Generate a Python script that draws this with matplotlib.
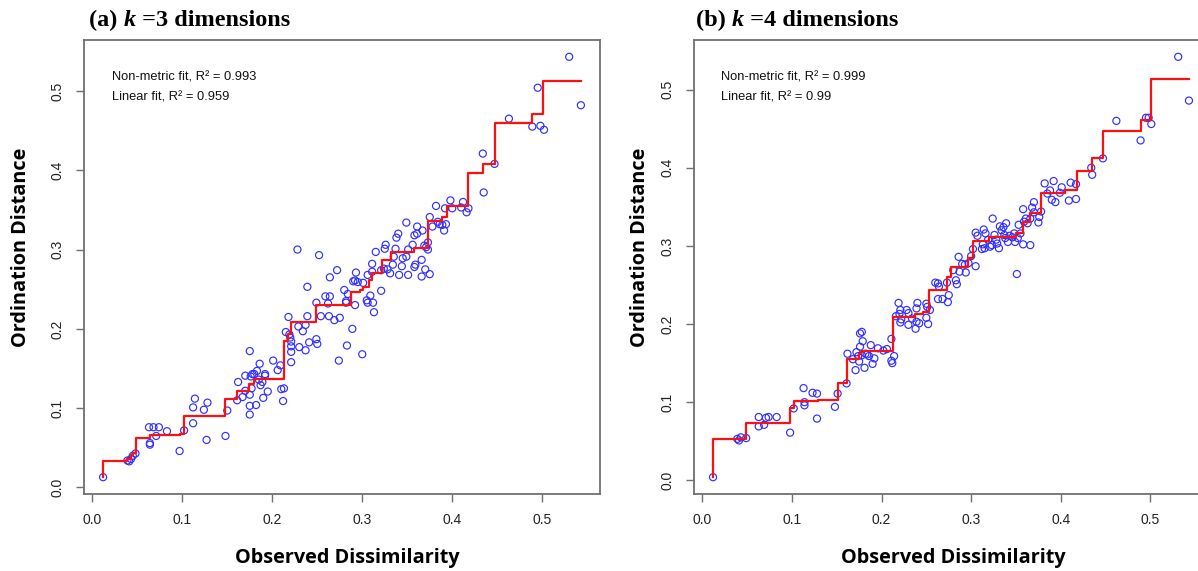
import matplotlib
matplotlib.use("Agg")
import matplotlib.pyplot as plt

# Shepard diagrams of an NMDS run, k=3 and k=4

# (a) k = 3
a_obs = [0.012, 0.039, 0.041, 0.043, 0.045, 0.048, 0.063, 0.068, 0.074, 0.064,
         0.064, 0.071, 0.083, 0.097, 0.102, 0.112, 0.112, 0.114, 0.124, 0.128,
         0.127, 0.148, 0.150, 0.161, 0.162, 0.167, 0.170, 0.170, 0.175, 0.175,
         0.175, 0.175, 0.176, 0.178, 0.180, 0.177, 0.182, 0.183, 0.185, 0.186,
         0.187, 0.189, 0.190, 0.192, 0.192, 0.195, 0.201, 0.206, 0.209, 0.210,
         0.213, 0.212, 0.215, 0.218, 0.219, 0.220, 0.221, 0.221, 0.221, 0.221,
         0.229, 0.230, 0.234, 0.237, 0.237, 0.239, 0.239, 0.241, 0.249, 0.249,
         0.250, 0.254, 0.259, 0.264, 0.262, 0.263, 0.269, 0.274, 0.275, 0.280,
         0.282, 0.282, 0.284, 0.283, 0.289, 0.292, 0.300, 0.305, 0.306, 0.309,
         0.312, 0.313, 0.321,
         0.228, 0.252, 0.264, 0.272, 0.293, 0.290, 0.292, 0.295, 0.301, 0.306,
         0.311, 0.315, 0.311, 0.321, 0.324, 0.325, 0.326, 0.328, 0.331, 0.334,
         0.335, 0.337, 0.338, 0.340, 0.341, 0.344, 0.345, 0.349, 0.349, 0.351,
         0.351, 0.356, 0.358, 0.359, 0.358, 0.361, 0.361, 0.366, 0.366, 0.367,
         0.369, 0.371, 0.373, 0.373, 0.370, 0.375, 0.375, 0.378, 0.382, 0.384,
         0.386, 0.389, 0.391, 0.393, 0.392, 0.398, 0.400, 0.410, 0.412, 0.416,
         0.418, 0.434, 0.435, 0.447, 0.463, 0.489, 0.495, 0.498, 0.502, 0.530,
         0.543]
a_ord = [0.013, 0.034, 0.033, 0.036, 0.040, 0.043, 0.076, 0.076, 0.076, 0.054,
         0.056, 0.065, 0.071, 0.046, 0.072, 0.081, 0.101, 0.112, 0.098, 0.107,
         0.060, 0.065, 0.097, 0.110, 0.133, 0.114, 0.122, 0.141, 0.117, 0.103,
         0.092, 0.172, 0.140, 0.143, 0.143, 0.125, 0.104, 0.147, 0.136, 0.156,
         0.129, 0.133, 0.113, 0.143, 0.141, 0.121, 0.160, 0.148, 0.154, 0.124,
         0.125, 0.109, 0.196, 0.215, 0.193, 0.189, 0.184, 0.158, 0.178, 0.171,
         0.203, 0.177, 0.197, 0.205, 0.173, 0.253, 0.216, 0.183, 0.233, 0.187,
         0.181, 0.216, 0.241, 0.241, 0.232, 0.216, 0.211, 0.160, 0.214, 0.249,
         0.235, 0.233, 0.244, 0.179, 0.200, 0.230, 0.168, 0.236, 0.233, 0.242,
         0.233, 0.221, 0.248,
         0.300, 0.293, 0.265, 0.274, 0.271, 0.260, 0.261, 0.259, 0.258, 0.268,
         0.272, 0.297, 0.282, 0.274, 0.276, 0.301, 0.306, 0.275, 0.270, 0.281,
         0.291, 0.301, 0.315, 0.320, 0.268, 0.279, 0.289, 0.291, 0.334, 0.268,
         0.300, 0.306, 0.278, 0.281, 0.318, 0.320, 0.329, 0.287, 0.266, 0.324,
         0.305, 0.303, 0.309, 0.300, 0.275, 0.269, 0.341, 0.329, 0.355, 0.335,
         0.332, 0.331, 0.324, 0.332, 0.352, 0.362, 0.352, 0.353, 0.360, 0.347,
         0.352, 0.421, 0.372, 0.408, 0.465, 0.455, 0.504, 0.456, 0.451, 0.543,
         0.482]
a_step_x = [0.012, 0.012, 0.039, 0.043, 0.045, 0.048, 0.064, 0.097, 0.102, 0.148,
            0.161, 0.174, 0.180, 0.213, 0.217, 0.221, 0.249, 0.288, 0.298, 0.301,
            0.308, 0.311, 0.322, 0.332, 0.357, 0.373, 0.389, 0.394, 0.418, 0.434,
            0.447, 0.489, 0.501, 0.543]
a_step_y = [0.013, 0.034, 0.036, 0.041, 0.044, 0.062, 0.066, 0.068, 0.090, 0.111,
            0.122, 0.130, 0.137, 0.185, 0.193, 0.209, 0.230, 0.247, 0.249, 0.253,
            0.262, 0.271, 0.287, 0.297, 0.302, 0.336, 0.341, 0.355, 0.396, 0.408,
            0.460, 0.4705, 0.513, 0.513]
a_fit = ["Non-metric fit, R² = 0.993", "Linear fit, R² = 0.959"]

# (b) k = 4
b_obs = [0.012, 0.039, 0.041, 0.043, 0.049, 0.063, 0.074, 0.083, 0.071, 0.063,
         0.069, 0.098, 0.102, 0.113, 0.114, 0.114, 0.123, 0.128, 0.128, 0.148,
         0.151, 0.161, 0.162, 0.168, 0.171, 0.172, 0.175, 0.174, 0.176, 0.178,
         0.176, 0.179, 0.178, 0.182, 0.184, 0.186, 0.181, 0.188, 0.190, 0.192,
         0.196, 0.202, 0.206, 0.211, 0.211, 0.212, 0.214, 0.216, 0.219, 0.220,
         0.221, 0.222, 0.221, 0.228, 0.230, 0.230, 0.234, 0.238, 0.239, 0.240,
         0.239, 0.242, 0.250, 0.251, 0.250, 0.252, 0.254, 0.260, 0.263, 0.264,
         0.263, 0.268, 0.273, 0.274, 0.275, 0.283, 0.284,
         0.280, 0.286, 0.287, 0.290, 0.294, 0.293, 0.297, 0.300, 0.305, 0.302,
         0.305, 0.307, 0.312, 0.315, 0.313, 0.314, 0.316, 0.319, 0.321, 0.323,
         0.324, 0.326, 0.328, 0.331, 0.329, 0.332, 0.334, 0.336, 0.337, 0.339,
         0.338, 0.341, 0.343, 0.346, 0.348, 0.349, 0.352, 0.351, 0.353, 0.355,
         0.358, 0.361, 0.359, 0.358, 0.366, 0.363, 0.366, 0.370, 0.368, 0.370,
         0.375, 0.376, 0.378, 0.382, 0.385, 0.388, 0.392, 0.390, 0.394, 0.401,
         0.399, 0.409, 0.417, 0.411, 0.417, 0.434, 0.435, 0.447, 0.462, 0.489,
         0.495, 0.498, 0.501, 0.531, 0.543]
b_ord = [0.004, 0.053, 0.051, 0.055, 0.054, 0.081, 0.081, 0.081, 0.080, 0.069,
         0.071, 0.061, 0.092, 0.118, 0.100, 0.096, 0.112, 0.111, 0.079, 0.094,
         0.111, 0.124, 0.162, 0.155, 0.141, 0.164, 0.152, 0.159, 0.188, 0.190,
         0.171, 0.178, 0.160, 0.162, 0.161, 0.159, 0.144, 0.173, 0.149, 0.156,
         0.169, 0.166, 0.168, 0.181, 0.153, 0.150, 0.159, 0.210, 0.227, 0.213,
         0.202, 0.206, 0.218, 0.218, 0.214, 0.199, 0.207, 0.194, 0.203, 0.227,
         0.220, 0.201, 0.226, 0.222, 0.208, 0.200, 0.218, 0.253, 0.252, 0.248,
         0.232, 0.232, 0.253, 0.228, 0.237, 0.256, 0.251,
         0.269, 0.286, 0.267, 0.277, 0.266, 0.276, 0.278, 0.287, 0.274, 0.296,
         0.317, 0.313, 0.296, 0.297, 0.302, 0.321, 0.316, 0.308, 0.299, 0.301,
         0.335, 0.314, 0.308, 0.297, 0.303, 0.325, 0.320, 0.324, 0.314, 0.329,
         0.310, 0.305, 0.313, 0.311, 0.316, 0.305, 0.310, 0.264, 0.327, 0.316,
         0.347, 0.335, 0.331, 0.302, 0.301, 0.329, 0.335, 0.343, 0.349, 0.356,
         0.330, 0.337, 0.344, 0.380, 0.367, 0.371, 0.383, 0.359, 0.356, 0.375,
         0.368, 0.358, 0.360, 0.381, 0.379, 0.400, 0.391, 0.412, 0.460, 0.435,
         0.464, 0.464, 0.456, 0.542, 0.486]
b_step_x = [0.012, 0.012, 0.049, 0.098, 0.102, 0.129, 0.151, 0.161, 0.175, 0.177,
            0.213, 0.237, 0.246, 0.253, 0.273, 0.278, 0.296, 0.3025, 0.320, 0.350,
            0.358, 0.366, 0.378, 0.405, 0.418, 0.435, 0.447, 0.489, 0.501, 0.543]
b_step_y = [0.004, 0.053, 0.073, 0.093, 0.102, 0.103, 0.125, 0.155, 0.162, 0.165,
            0.209, 0.213, 0.216, 0.243, 0.260, 0.273, 0.284, 0.306, 0.311, 0.317,
            0.331, 0.342, 0.368, 0.371, 0.396, 0.413, 0.447, 0.461, 0.514, 0.514]
b_fit = ["Non-metric fit, R² = 0.999", "Linear fit, R² = 0.99"]

W, H = 1198, 571
fig = plt.figure(figsize=(W / 100, H / 100), dpi=100)

tick_font = 'Liberation Sans'
box_col = '#707070'


def r_lim(v):
    # R's default 4% padding
    lo, hi = min(v), max(v)
    pad = (hi - lo) * 0.04
    return lo - pad, hi + pad


def shepard(pos, obs, ord_, sx, sy, fit, txt_x):
    ax = fig.add_axes(pos)
    ax.scatter(obs, ord_, s=26, facecolors='none', edgecolors='#3030ff',
               linewidths=0.85, zorder=2)
    ax.step(sx, sy, where='post', color='#ff1010', lw=1.6, zorder=3)
    ax.set_xlim(*r_lim(obs))
    ax.set_ylim(*r_lim(ord_))
    ticks = [0.0, 0.1, 0.2, 0.3, 0.4, 0.5]
    ax.set_xticks(ticks)
    ax.set_yticks(ticks)
    ax.set_xticklabels([f"{t:.1f}" for t in ticks], family=tick_font,
                       fontsize=10, color='#222222')
    ax.set_yticklabels([f"{t:.1f}" for t in ticks], family=tick_font,
                       fontsize=10, color='#222222', rotation=90, va='center')
    ax.tick_params(direction='out', length=6, width=1, color=box_col)
    ax.tick_params(axis='x', pad=8)
    ax.tick_params(axis='y', pad=8)
    for sp in ax.spines.values():
        sp.set_color(box_col)
        sp.set_linewidth(1.3)
    for i, s in enumerate(fit):
        ax.text(txt_x, 1 - (78 + 19 * i) / H, s, transform=fig.transFigure,
                family=tick_font, fontsize=9.3, va='center', color='#111111')
    return ax


shepard([84 / W, 1 - 494 / H, 516 / W, 454 / H], a_obs, a_ord,
        a_step_x, a_step_y, a_fit, 112 / W)
shepard([694 / W, 1 - 494 / H, 514 / W, 454 / H], b_obs, b_ord,
        b_step_x, b_step_y, b_fit, 721 / W)

# axis titles
lab = dict(family='Open Sans', fontweight='bold', fontsize=14.3, color='black')
fig.text(21 / W, 1 - 247 / H, "Ordination Distance", rotation=90,
         ha='center', va='center', **lab)
fig.text(640 / W, 1 - 247 / H, "Ordination Distance", rotation=90,
         ha='center', va='center', **lab)
fig.text(347 / W, 1 - 558 / H, "Observed Dissimilarity",
         ha='center', va='center', **lab)
fig.text(953 / W, 1 - 558 / H, "Observed Dissimilarity",
         ha='center', va='center', **lab)

# panel titles: "(a) k =3 dimensions" with italic k
renderer = fig.canvas.get_renderer()


def panel_title(x, parts):
    for s, style in parts:
        t = fig.text(x, 1 - 26 / H, s, family='Liberation Serif',
                     fontweight='bold', fontstyle=style, fontsize=17.5,
                     va='baseline')
        x += t.get_window_extent(renderer).width / W


panel_title(89 / W, [("(a) ", 'normal'), ("k", 'italic'),
                     (" =3 dimensions", 'normal')])
panel_title(696 / W, [("(b) ", 'normal'), ("k", 'italic'),
                      (" =4 dimensions", 'normal')])

fig.savefig("out.png", dpi=100)
